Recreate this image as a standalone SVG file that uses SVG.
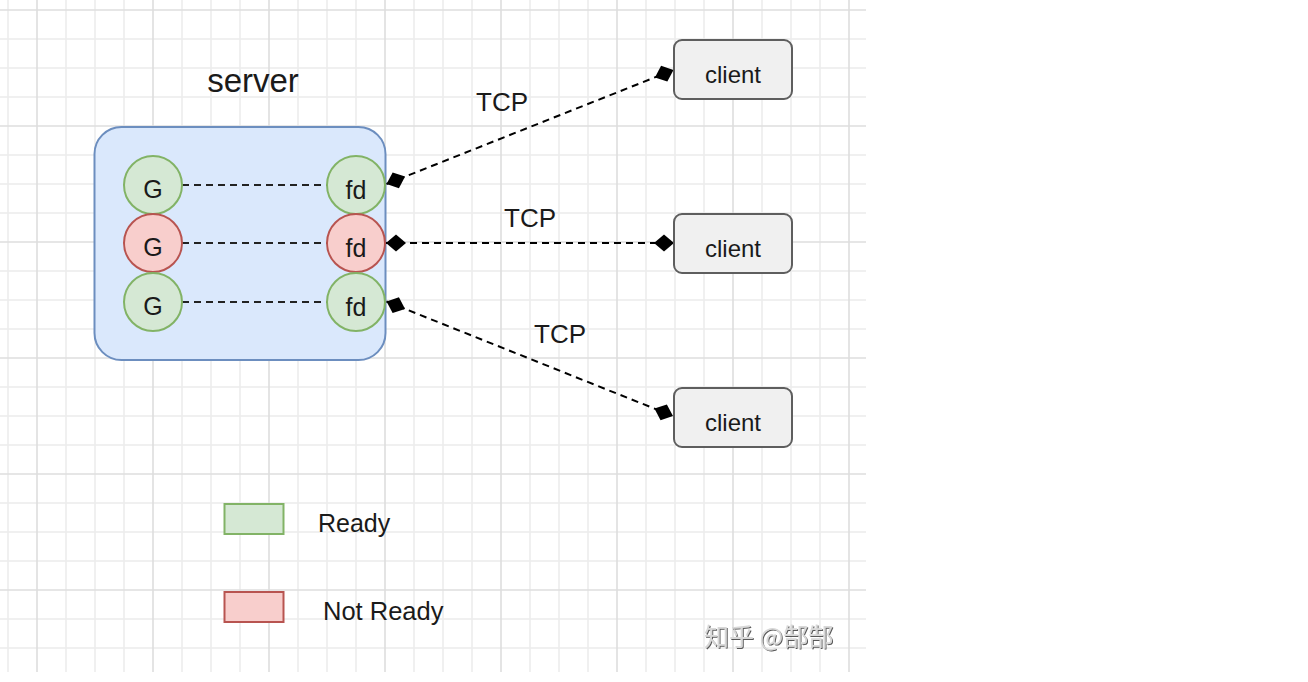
<svg xmlns="http://www.w3.org/2000/svg" width="1308" height="682" viewBox="0 0 1308 682">
<style>
text{font-family:"Liberation Sans",Arial,sans-serif;fill:#1a1a1a}
.g{fill:#d5e8d4;stroke:#82b366;stroke-width:2}
.r{fill:#f8cecc;stroke:#b85450;stroke-width:2}
.cl{fill:#f0f0f0;stroke:#5e5e5e;stroke-width:2}
.lbl{font-size:25px;text-anchor:middle}
.in{fill:none;stroke:#222;stroke-width:2;stroke-dasharray:7 5}
.ed{fill:none;stroke:#000;stroke-width:2;stroke-dasharray:7 5;marker-start:url(#dia);marker-end:url(#dia)}
.mi{fill:none;stroke:#ececec;stroke-width:1.5}
.ma{fill:none;stroke:#dedede;stroke-width:1.6}
</style>
<defs>
<marker id="dia" markerUnits="userSpaceOnUse" markerWidth="24" markerHeight="20" viewBox="0 -10 24 20" refX="20" refY="0" orient="auto-start-reverse" overflow="visible">
<path d="M0 0L10 -8.5L20 0L10 8.5Z" fill="#000"/>
</marker>
<filter id="wm" x="-10%" y="-30%" width="120%" height="160%">
<feDropShadow dx="1" dy="1" stdDeviation="0.5" flood-color="#333" flood-opacity="0.8"/>
</filter>
</defs>
<rect width="1308" height="682" fill="#fff"/>
<g id="grid">
<path class="mi" d="M8 0V672M66 0V672M95 0V672M124 0V672M182 0V672M211 0V672M240 0V672M298 0V672M327 0V672M356 0V672M414 0V672M443 0V672M472 0V672M530 0V672M559 0V672M588 0V672M646 0V672M675 0V672M704 0V672M762 0V672M791 0V672M820 0V672M0 39H866M0 68H866M0 97H866M0 155H866M0 184H866M0 213H866M0 271H866M0 300H866M0 329H866M0 387H866M0 416H866M0 445H866M0 503H866M0 532H866M0 561H866M0 619H866M0 648H866"/>
<path class="ma" d="M37 0V672M153 0V672M269 0V672M385 0V672M501 0V672M617 0V672M733 0V672M849 0V672M0 10H866M0 126H866M0 242H866M0 358H866M0 474H866M0 590H866"/>
</g>
<text x="253" y="92" style="font-size:33px;text-anchor:middle">server</text>
<g id="server">
<rect x="94.5" y="127" width="291" height="233" rx="27" fill="#dae8fc" stroke="#6c8ebf" stroke-width="2"/>
</g>
<g id="connectors">
<line class="in" x1="182" y1="185" x2="327" y2="185"/>
<line class="in" x1="182" y1="243" x2="327" y2="243"/>
<line class="in" x1="182" y1="302" x2="327" y2="302"/>
<path class="ed" d="M386.5 184L673.5 70"/>
<path class="ed" d="M386 243L674 243"/>
<path class="ed" d="M386.5 301.5L673 416"/>
</g>
<g id="g1"><circle class="g" cx="153" cy="185" r="29"/><text class="lbl" x="153" y="198">G</text></g>
<g id="g2"><circle class="r" cx="153" cy="243" r="29"/><text class="lbl" x="153" y="256">G</text></g>
<g id="g3"><circle class="g" cx="153" cy="302" r="29"/><text class="lbl" x="153" y="315">G</text></g>
<g id="fd1"><circle class="g" cx="356" cy="185" r="29"/><text class="lbl" x="356" y="199">fd</text></g>
<g id="fd2"><circle class="r" cx="356" cy="243" r="29"/><text class="lbl" x="356" y="257">fd</text></g>
<g id="fd3"><circle class="g" cx="356" cy="302" r="29"/><text class="lbl" x="356" y="316">fd</text></g>
<g id="client1"><rect class="cl" x="674" y="40" width="118" height="59" rx="8"/><text x="733" y="83" style="font-size:24px;text-anchor:middle">client</text></g>
<g id="client2"><rect class="cl" x="674" y="214" width="118" height="59" rx="8"/><text x="733" y="257" style="font-size:24px;text-anchor:middle">client</text></g>
<g id="client3"><rect class="cl" x="674" y="388" width="118" height="59" rx="8"/><text x="733" y="431" style="font-size:24px;text-anchor:middle">client</text></g>
<g id="labels">
<text x="502" y="111" style="font-size:26px;text-anchor:middle">TCP</text>
<text x="530" y="227" style="font-size:26px;text-anchor:middle">TCP</text>
<text x="560" y="343" style="font-size:26px;text-anchor:middle">TCP</text>
</g>
<g id="legend-ready"><rect x="224.5" y="504" width="59" height="30" fill="#d5e8d4" stroke="#82b366" stroke-width="2"/><text x="318" y="532" style="font-size:25px">Ready</text></g>
<g id="legend-notready"><rect x="224.5" y="592" width="59" height="30" fill="#f8cecc" stroke="#b85450" stroke-width="2"/><text x="323" y="620" style="font-size:25.5px">Not Ready</text></g>
<text x="704" y="646" filter="url(#wm)" style="font-size:25px;fill:#d8d8d8;font-family:'Noto Sans CJK SC','Liberation Sans',sans-serif">知乎 @郜郜</text>
</svg>
